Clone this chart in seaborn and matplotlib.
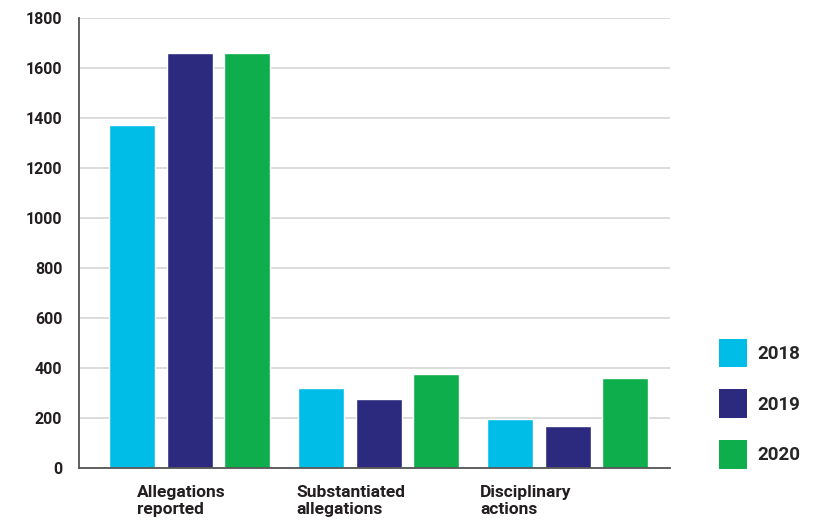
import pandas as pd
import matplotlib.pyplot as plt
import seaborn as sns
from matplotlib.patches import Patch

categories = ['Allegations\nreported', 'Substantiated\nallegations', 'Disciplinary\nactions']
years = ['2018', '2019', '2020']
values_2018 = [1372, 319, 195]
values_2019 = [1660, 275, 167]
values_2020 = [1660, 375, 359]
colors = ['#00BDE8', '#2B2A7F', '#0DAE4B']

# horizontal shift of each category label (pixels), the labels sit a bit left of the bars
label_shift = [-9, -28, -42]

df = pd.DataFrame({
    'category': categories * 3,
    'year': [y for y in years for _ in categories],
    'value': values_2018 + values_2019 + values_2020,
})

sns.set_style('white')
plt.rcParams['font.family'] = ['Roboto', 'DejaVu Sans']

fig = plt.figure(figsize=(8.14, 5.2), dpi=100)
ax = fig.add_axes([0.097, 0.1, 0.726, 0.865])

sns.barplot(data=df, x='category', y='value', hue='year', palette=colors,
            width=0.913, gap=0.2, saturation=1, ax=ax, legend=False)

ax.set_xlim(-0.587, 2.54)
ax.set_ylim(0, 1800)
ax.set_yticks(range(0, 1801, 200))
ax.grid(axis='y', color='#dcdcdc', linewidth=1.4)
ax.set_axisbelow(True)
ax.set_xlabel('')
ax.set_ylabel('')

for side in ['top', 'right']:
    ax.spines[side].set_visible(False)
for side in ['left', 'bottom']:
    ax.spines[side].set_color('#555555')
    ax.spines[side].set_linewidth(1.3)

ax.tick_params(axis='y', length=0, pad=12, labelsize=11.5, labelcolor='#231f20')
for lab in ax.get_yticklabels():
    lab.set_fontweight('bold')

# category labels
ax.tick_params(axis='x', length=0, labelbottom=False)
for i, (cat, dx) in enumerate(zip(categories, label_shift)):
    ax.annotate(cat, xy=(i, 0), xycoords=('data', 'axes fraction'),
                xytext=(dx, -17), textcoords='offset pixels',
                ha='center', va='top', multialignment='left', linespacing=1.2,
                fontsize=12.5, fontweight='bold', color='#231f20',
                annotation_clip=False)

handles = [Patch(facecolor=c, edgecolor='none', label=y) for c, y in zip(colors, years)]
fig.legend(handles=handles, loc='lower left', bbox_to_anchor=(0.872, 0.081),
           frameon=False, prop={'weight': 'bold', 'size': 13.5},
           handlelength=1.49, handleheight=1.96, labelspacing=1.18,
           handletextpad=0.55, borderpad=0)

fig.savefig('out.png', dpi=100)
